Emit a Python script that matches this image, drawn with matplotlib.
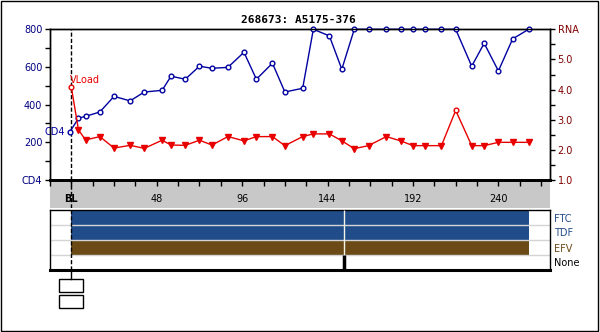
import matplotlib
matplotlib.use('Agg')
import matplotlib.pyplot as plt
from matplotlib.patches import Rectangle
from matplotlib.lines import Line2D
from matplotlib.ticker import MultipleLocator

plt.rcParams['font.family'] = ['DejaVu Sans']

# 数据
cd4_weeks = [-1, 4, 8, 16, 24, 33, 41, 51, 56, 64, 72, 79, 88, 97, 104, 113, 120,
             130, 136, 145, 152, 159, 167, 177, 185, 192, 199, 208, 216, 225, 232,
             240, 248, 257]
cd4_values = [253, 328, 338, 361, 444, 420, 467, 476, 551, 535, 604, 593, 598, 678,
              535, 620, 467, 487, 800, 765, 588, 800, 800, 800, 800, 800, 800, 800,
              800, 604, 726, 579, 749, 800]

vl_weeks = [0, 4, 8, 16, 24, 33, 41, 51, 56, 64, 72, 79, 88, 97, 104, 113, 120,
            130, 136, 145, 152, 159, 167, 177, 185, 192, 199, 208, 216, 225, 232,
            240, 248, 257]
vl_values = [4.08, 2.66, 2.33, 2.44, 2.06, 2.15, 2.05, 2.32, 2.16, 2.15, 2.32, 2.16,
             2.44, 2.30, 2.44, 2.44, 2.14, 2.44, 2.53, 2.53, 2.30, 2.04, 2.14, 2.44,
             2.30, 2.14, 2.14, 2.14, 3.31, 2.14, 2.14, 2.25, 2.25, 2.25]
# 低于检测限的点用实心倒三角
vl_below = [False] + [True] * 27 + [False] + [True] * 5

x_ticks = [0, 48, 96, 144, 192, 240]
x_labels = ['BL', '48', '96', '144', '192', '240']
cd4_ticks = [0, 200, 400, 600, 800]
cd4_labels = ['CD4', '200', '400', '600', '800']
rna_ticks = [1, 2, 3, 4, 5, 6]
rna_labels = ['1.0', '2.0', '3.0', '4.0', '5.0', 'RNA']

regimens = ['FTC', 'TDF', 'EFV', 'None']
reg_start = [0, 0, 0]
reg_stop = [257, 257, 257]
reg_colors = ['#214C8A', '#214C8A', '#6B4A16', 'black']
switch_week = 153.5

title = '268673: A5175-376'

W, H = 600, 332
BLUE = '#0000A0'
RED = '#E80000'
NAVY = '#000080'
DARKRED = '#800000'


def px_rect(l, t, w, h):
    return [l / W, 1 - (t + h) / H, w / W, h / H]


fig = plt.figure(figsize=(W / 100, H / 100), dpi=100)
fig.patch.set_facecolor('white')

# 灰色刻度带
band = fig.add_axes(px_rect(50, 180, 500, 28))
band.set_facecolor('#C8C8C8')
band.set_xlim(-12, 269)
band.set_ylim(0, 1)
band.set_xticks([])
band.set_yticks([])
for s in band.spines.values():
    s.set_visible(False)
band.axvline(0, color='black', lw=1, dashes=(3, 1.5))

# 主图
ax = fig.add_axes(px_rect(50, 29.3, 500, 150.7))
ax.set_facecolor('none')
ax.set_xlim(-12, 269)
ax.set_ylim(0, 800)
ax.set_xticks(x_ticks)
ax.set_xticklabels(x_labels, fontsize=7)
ax.xaxis.set_minor_locator(MultipleLocator(12))
ax.get_xticklabels()[0].set_fontweight('bold')
ax.tick_params(axis='x', which='both', direction='out', length=4, width=1, pad=6)
ax.set_yticks(cd4_ticks)
ax.set_yticklabels(cd4_labels, fontsize=7)
ax.yaxis.set_minor_locator(MultipleLocator(100))
ax.tick_params(axis='y', which='both', direction='out', length=3.5, width=1,
               labelcolor=NAVY, pad=2)
for s in ax.spines.values():
    s.set_linewidth(1)
ax.spines['bottom'].set_linewidth(2)
ax.axvline(0, color='black', lw=1, dashes=(3, 1.5), zorder=1)

ax.plot(cd4_weeks, cd4_values, color=BLUE, lw=1, marker='o', ms=3.4, mfc='white',
        mec=BLUE, mew=1, clip_on=False, zorder=3)
ax.annotate('CD4', xy=(cd4_weeks[0], cd4_values[0]), xytext=(-3, 0),
            textcoords='offset points', ha='right', va='center', fontsize=7,
            color=BLUE)

ax2 = ax.twinx()
ax2.set_ylim(1, 6)
ax2.set_yticks(rna_ticks)
ax2.set_yticklabels(rna_labels, fontsize=7)
ax2.yaxis.set_minor_locator(MultipleLocator(0.5))
ax2.tick_params(axis='y', which='both', direction='out', length=3.5, width=1,
                labelcolor=DARKRED, pad=2)
for s in ax2.spines.values():
    s.set_linewidth(1)
ax2.spines['bottom'].set_linewidth(2)

ax2.plot(vl_weeks, vl_values, color=RED, lw=1, zorder=2)
ax2.plot([w for w, b in zip(vl_weeks, vl_below) if b],
         [v for v, b in zip(vl_values, vl_below) if b],
         ls='none', marker='v', ms=4.5, color=RED, zorder=3)
ax2.plot([w for w, b in zip(vl_weeks, vl_below) if not b],
         [v for v, b in zip(vl_values, vl_below) if not b],
         ls='none', marker='o', ms=3.4, mfc='white', mec=RED, mew=1, zorder=3)
ax2.annotate('VLoad', xy=(vl_weeks[0], vl_values[0]), xytext=(-1, 1.5),
             textcoords='offset points', ha='left', va='bottom', fontsize=7,
             color=RED)

fig.text(298.5 / W, 1 - 19.6 / H, title, ha='center', va='center', fontsize=8,
         fontweight='bold', family='DejaVu Sans Mono')

# 用药方案面板
reg = fig.add_axes(px_rect(50, 210, 500, 60))
reg.set_xlim(-12, 269)
reg.set_ylim(0, 4)
rows = [3.5, 2.5, 1.5]
reg.barh(rows, [b - a for a, b in zip(reg_start, reg_stop)], left=reg_start,
         height=1, color=reg_colors[:3], zorder=1)
for y in [1, 2, 3]:
    reg.axhline(y, color='#D4D4D4', lw=1, zorder=2)
reg.vlines(switch_week, 1, 4, color='#F4F4E8', lw=1, zorder=3)
reg.vlines(switch_week, 0, 1, color='black', lw=2.5, zorder=3)
reg.axvline(0, color='black', lw=1, dashes=(3, 1.5), zorder=4)
reg.set_xticks([])
reg.yaxis.tick_right()
reg.set_yticks([3.5, 2.5, 1.5, 0.5])
reg.set_yticklabels(regimens, fontsize=7)
reg.tick_params(axis='y', length=0, pad=3)
for lab, c in zip(reg.get_yticklabels(), reg_colors):
    lab.set_color(c)
for s in reg.spines.values():
    s.set_linewidth(1)
reg.spines['bottom'].set_linewidth(2.2)

# 基线下的连线和两个小方框
x0 = 71.2
fig.add_artist(Line2D([x0 / W, x0 / W], [1 - 270 / H, 1 - 279 / H], color='black',
                      lw=1))
for top in [279, 295]:
    fig.add_artist(Rectangle((59.3 / W, 1 - (top + 13.3) / H), 24 / W, 13.3 / H,
                             fill=False, ec='black', lw=1))

# 外框
fig.add_artist(Rectangle((0.8 / W, 1 - 331 / H), 597.4 / W, 330 / H, fill=False,
                         ec='black', lw=1))

plt.savefig('out.png', dpi=100, facecolor='white')
